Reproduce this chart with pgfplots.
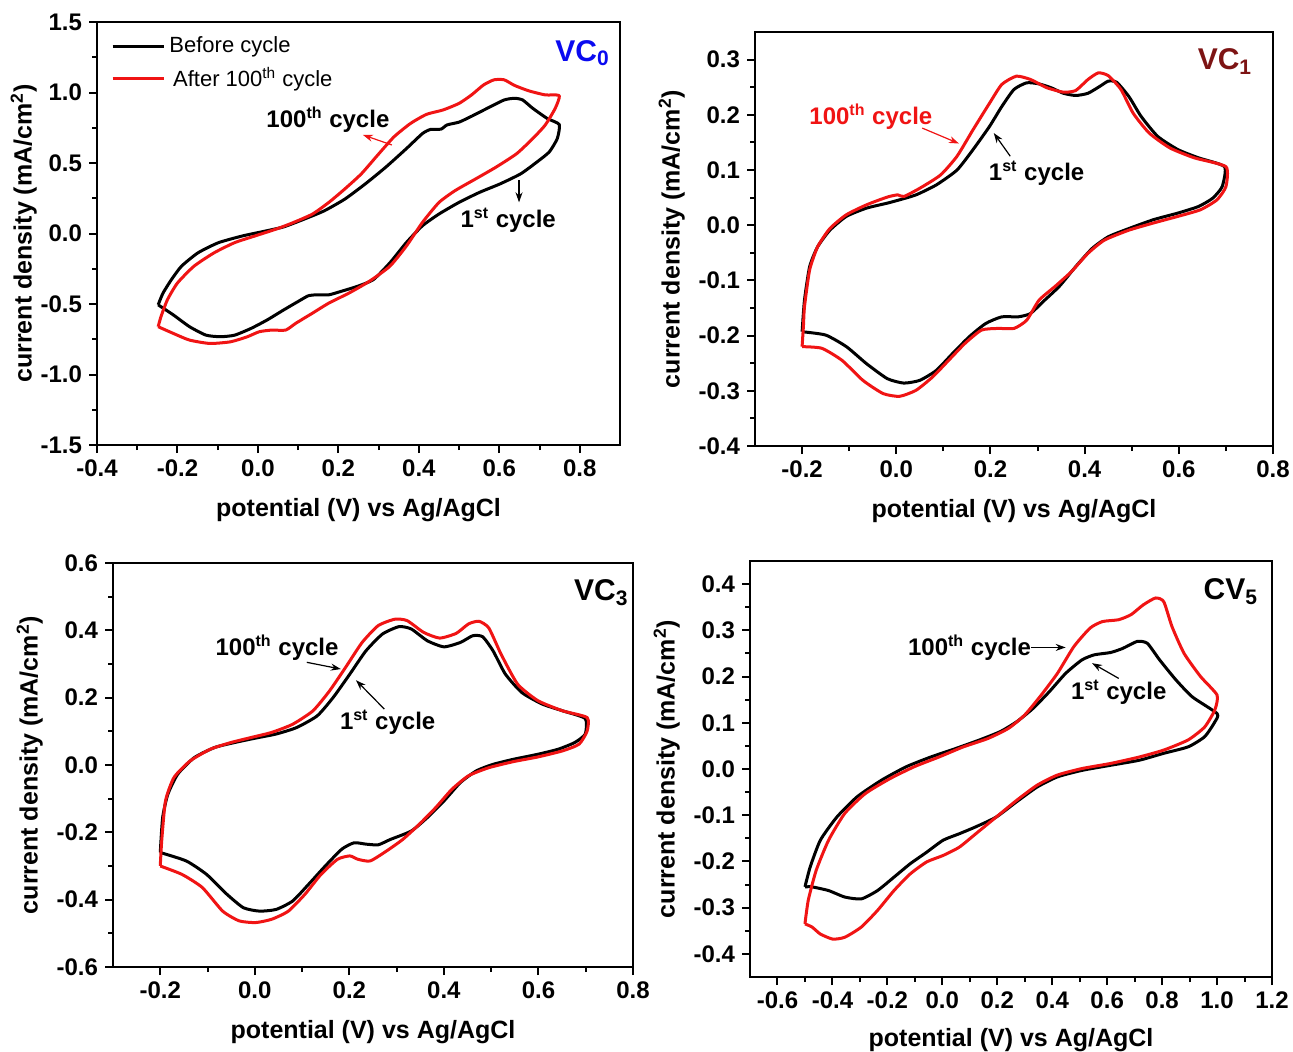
\documentclass[border=0pt]{standalone}
\usepackage{pgfplots}
\pgfplotsset{compat=1.18}
\usepackage{fontspec}
\setmainfont{Liberation Sans}
\usetikzlibrary{arrows.meta}
\definecolor{maroon}{RGB}{125,20,20}
\definecolor{cvred}{RGB}{240,20,20}
\definecolor{vcblue}{RGB}{10,10,240}
\pgfplotsset{
  cvstyle/.style={
    scale only axis,
    anchor=south west,
    axis line style={line width=1.2pt},
    every tick/.style={line width=1pt, black},
    tick align=outside,
    xtick pos=left, ytick pos=left,
    major tick length=4pt,
    minor tick length=2.5pt,
    minor x tick num=1, minor y tick num=1,
    scaled ticks=false,
    /pgf/number format/assume math mode=true,
    xticklabel style={font=\bfseries\fontsize{12}{14}\selectfont, /pgf/number format/.cd, fixed, fixed zerofill, precision=1},
    yticklabel style={font=\bfseries\fontsize{12}{14}\selectfont, /pgf/number format/.cd, fixed, fixed zerofill, precision=1},
    label style={font=\bfseries\fontsize{12.5}{15}\selectfont},
    xlabel style={yshift=-4pt},
    xlabel={potential (V) vs Ag/AgCl},
    ylabel={current density (mA/cm\textsuperscript{2})},
    every axis plot/.append style={line width=1.5pt, line join=round, mark=none, smooth, tension=0.35},
  }
}
\begin{document}
\begin{tikzpicture}
\useasboundingbox (0,0) rectangle (646.5pt,525.5pt);
% ---------------- Panel 1: VC0
\begin{axis}[cvstyle, at={(48.5pt,303pt)}, width=261.5pt, height=211.5pt,
  xmin=-0.4, xmax=0.9, ymin=-1.5, ymax=1.5,
  xtick={-0.4,-0.2,...,0.81}, ytick={-1.5,-1.0,...,1.51},
  ylabel style={yshift=-5pt},
  legend style={at={(0.015,0.985)}, anchor=north west, draw=none, fill=none,
    font=\fontsize{11}{13}\selectfont, row sep=2pt},
  legend cell align=left,
  legend image code/.code={\draw[#1, line width=1.5pt, sharp plot] (0,0) -- (0.9cm,0);}]
\addplot[black] coordinates {
(-0.248,-0.506) (-0.236,-0.423) (-0.215,-0.327) (-0.190,-0.232) (-0.149,-0.137) (-0.098,-0.065)
(-0.038,-0.017) (0.013,0.014) (0.064,0.047) (0.115,0.102) (0.165,0.161) (0.216,0.244)
(0.267,0.352) (0.318,0.471) (0.369,0.602) (0.409,0.709) (0.429,0.738) (0.455,0.740)
(0.470,0.770) (0.500,0.790) (0.530,0.830) (0.570,0.888) (0.612,0.947) (0.638,0.959)
(0.658,0.947) (0.683,0.888) (0.719,0.816) (0.749,0.773)
(0.744,0.673) (0.724,0.578) (0.693,0.506) (0.653,0.423) (0.602,0.352) (0.551,0.292)
(0.500,0.221) (0.450,0.138) (0.409,0.055) (0.369,-0.064) (0.328,-0.208) (0.287,-0.327)
(0.247,-0.375) (0.206,-0.411) (0.176,-0.435) (0.145,-0.435) (0.125,-0.442) (0.100,-0.482)
(0.064,-0.542) (0.023,-0.613) (-0.017,-0.673) (-0.058,-0.721) (-0.093,-0.732) (-0.129,-0.721)
(-0.170,-0.661) (-0.210,-0.578) (-0.248,-0.506)};
\addlegendentry{Before cycle}
\addplot[cvred] coordinates {
(-0.248,-0.661) (-0.241,-0.590) (-0.225,-0.470) (-0.200,-0.351) (-0.159,-0.232) (-0.109,-0.137)
(-0.058,-0.065) (-0.007,-0.017) (0.044,0.030) (0.084,0.073) (0.135,0.137) (0.176,0.220)
(0.216,0.316) (0.257,0.423) (0.297,0.554) (0.338,0.685) (0.379,0.780) (0.419,0.845)
(0.460,0.876) (0.500,0.923) (0.531,0.983) (0.561,1.054) (0.587,1.090) (0.612,1.090)
(0.638,1.050) (0.673,1.012) (0.714,0.983) (0.749,0.978)
(0.739,0.888) (0.714,0.769) (0.683,0.673) (0.643,0.566) (0.592,0.471) (0.541,0.387)
(0.490,0.304) (0.450,0.220) (0.409,0.079) (0.369,-0.089) (0.328,-0.232) (0.277,-0.339)
(0.226,-0.423) (0.176,-0.494) (0.135,-0.566) (0.094,-0.637) (0.069,-0.685) (0.034,-0.685)
(0.003,-0.697) (-0.027,-0.733) (-0.068,-0.768) (-0.119,-0.780) (-0.170,-0.756) (-0.210,-0.709)
(-0.248,-0.661)};
\addlegendentry{\,After 100\textsuperscript{th} cycle}
\node[font=\bfseries\fontsize{15}{17}\selectfont, text=vcblue] at (axis cs:0.807,1.28) {VC\textsubscript{0}};
\node[font=\bfseries\fontsize{12}{14}\selectfont] at (axis cs:0.174,0.805) {100\textsuperscript{th} cycle};
\draw[cvred, line width=0.6pt, -{Stealth[length=5pt,width=3.5pt]}] (axis cs:0.333,0.628) -- (axis cs:0.261,0.699);
\node[font=\bfseries\fontsize{12}{14}\selectfont] at (axis cs:0.622,0.096) {1\textsuperscript{st} cycle};
\draw[black, line width=0.6pt, -{Stealth[length=5pt,width=3.5pt]}] (axis cs:0.649,0.376) -- (axis cs:0.649,0.221);
\end{axis}
% ---------------- Panel 2: VC1
\begin{axis}[cvstyle, at={(377.5pt,302.5pt)}, width=259pt, height=207pt,
  xmin=-0.3, xmax=0.8, ymin=-0.4, ymax=0.35,
  xtick={-0.2,0,...,0.81}, ytick={-0.4,-0.3,...,0.31}]
\addplot[black] coordinates {
(-0.200,-0.193) (-0.195,-0.136) (-0.184,-0.075) (-0.167,-0.039) (-0.141,-0.009) (-0.106,0.016)
(-0.063,0.031) (-0.019,0.040) (0.007,0.046) (0.042,0.055) (0.085,0.073) (0.129,0.100)
(0.163,0.137) (0.198,0.179) (0.224,0.215) (0.250,0.246) (0.277,0.258) (0.303,0.256)
(0.329,0.249) (0.355,0.239) (0.381,0.235) (0.407,0.239) (0.433,0.252) (0.450,0.261)
(0.468,0.259) (0.494,0.233) (0.520,0.197) (0.555,0.161) (0.598,0.137) (0.642,0.122) (0.697,0.106)
(0.692,0.070) (0.672,0.049) (0.642,0.034) (0.598,0.022) (0.546,0.010) (0.494,-0.006)
(0.450,-0.021) (0.416,-0.042) (0.381,-0.075) (0.346,-0.111) (0.311,-0.139) (0.285,-0.160)
(0.259,-0.166) (0.224,-0.166) (0.190,-0.178) (0.155,-0.202) (0.120,-0.232) (0.085,-0.263)
(0.050,-0.281) (0.016,-0.286) (-0.019,-0.278) (-0.063,-0.251) (-0.106,-0.220) (-0.150,-0.199)
(-0.200,-0.193)};
\addplot[cvred] coordinates {
(-0.200,-0.220) (-0.197,-0.180) (-0.195,-0.148) (-0.184,-0.081) (-0.167,-0.039) (-0.141,-0.006) (-0.106,0.019)
(-0.063,0.037) (-0.019,0.051) (0.003,0.055) (0.016,0.052) (0.050,0.067) (0.094,0.091)
(0.129,0.125) (0.163,0.173) (0.198,0.221) (0.224,0.255) (0.255,0.270) (0.285,0.264)
(0.320,0.249) (0.355,0.241) (0.381,0.244) (0.407,0.264) (0.429,0.276) (0.450,0.271)
(0.477,0.246) (0.503,0.203) (0.537,0.167) (0.581,0.140) (0.633,0.122) (0.700,0.106)
(0.700,0.070) (0.681,0.046) (0.646,0.028) (0.598,0.016) (0.546,0.004) (0.494,-0.009)
(0.442,-0.027) (0.407,-0.051) (0.372,-0.084) (0.337,-0.111) (0.303,-0.136) (0.277,-0.172)
(0.250,-0.187) (0.216,-0.187) (0.181,-0.190) (0.146,-0.214) (0.111,-0.245) (0.077,-0.275)
(0.042,-0.299) (0.007,-0.310) (-0.028,-0.305) (-0.071,-0.281) (-0.115,-0.245) (-0.158,-0.223)
(-0.200,-0.220)};
\node[font=\bfseries\fontsize{15}{17}\selectfont, text=maroon] at (axis cs:0.698,0.297) {VC\textsubscript{1}};
\node[font=\bfseries\fontsize{12}{14}\selectfont, text=cvred] at (axis cs:-0.054,0.197) {100\textsuperscript{th} cycle};
\draw[cvred, line width=0.6pt, -{Stealth[length=5pt,width=3.5pt]}] (axis cs:0.055,0.176) -- (axis cs:0.133,0.148);
\node[font=\bfseries\fontsize{12}{14}\selectfont] at (axis cs:0.298,0.094) {1\textsuperscript{st} cycle};
\draw[black, line width=0.6pt, -{Stealth[length=5pt,width=3.5pt]}] (axis cs:0.242,0.125) -- (axis cs:0.207,0.167);
\end{axis}
% ---------------- Panel 3: VC3
\begin{axis}[cvstyle, at={(56.5pt,42pt)}, width=260pt, height=202pt,
  xmin=-0.3, xmax=0.8, ymin=-0.6, ymax=0.6,
  xtick={-0.2,0,...,0.81}, ytick={-0.6,-0.4,...,0.61}]
\addplot[black] coordinates {
(-0.200,-0.260) (-0.195,-0.156) (-0.184,-0.087) (-0.163,-0.027) (-0.128,0.022) (-0.085,0.052)
(-0.042,0.067) (0.002,0.080) (0.045,0.092) (0.088,0.111) (0.132,0.146) (0.166,0.201)
(0.201,0.270) (0.235,0.339) (0.270,0.389) (0.305,0.411) (0.331,0.404) (0.365,0.369)
(0.400,0.351) (0.435,0.364) (0.461,0.384) (0.482,0.381) (0.504,0.339) (0.530,0.270)
(0.565,0.215) (0.608,0.181) (0.651,0.161) (0.699,0.138)
(0.699,0.092) (0.677,0.067) (0.642,0.047) (0.599,0.032) (0.547,0.017) (0.504,0.002)
(0.469,-0.017) (0.435,-0.052) (0.400,-0.107) (0.365,-0.156) (0.331,-0.196) (0.287,-0.221)
(0.261,-0.237) (0.235,-0.235) (0.210,-0.231) (0.184,-0.250) (0.149,-0.300) (0.114,-0.354)
(0.080,-0.404) (0.045,-0.429) (0.010,-0.434) (-0.024,-0.424) (-0.059,-0.384) (-0.102,-0.325)
(-0.145,-0.285) (-0.200,-0.260)};
\addplot[cvred] coordinates {
(-0.200,-0.300) (-0.197,-0.226) (-0.189,-0.107) (-0.171,-0.037) (-0.137,0.012) (-0.094,0.047)
(-0.050,0.067) (-0.007,0.082) (0.036,0.097) (0.080,0.121) (0.123,0.161) (0.158,0.220)
(0.192,0.290) (0.227,0.364) (0.261,0.414) (0.296,0.433) (0.322,0.429) (0.357,0.394)
(0.391,0.377) (0.426,0.391) (0.452,0.419) (0.474,0.427) (0.495,0.407) (0.521,0.329)
(0.556,0.240) (0.599,0.191) (0.651,0.161) (0.703,0.141)
(0.703,0.101) (0.686,0.062) (0.651,0.042) (0.599,0.024) (0.547,0.010) (0.495,-0.008)
(0.452,-0.032) (0.417,-0.072) (0.383,-0.126) (0.348,-0.176) (0.313,-0.221) (0.279,-0.255)
(0.244,-0.285) (0.218,-0.280) (0.201,-0.270) (0.175,-0.280) (0.140,-0.325) (0.106,-0.384)
(0.071,-0.434) (0.036,-0.458) (0.002,-0.468) (-0.033,-0.463) (-0.068,-0.434) (-0.111,-0.364)
(-0.154,-0.325) (-0.200,-0.300)};
\node[font=\bfseries\fontsize{15}{17}\selectfont] at (axis cs:0.733,0.513) {VC\textsubscript{3}};
\node[font=\bfseries\fontsize{12}{14}\selectfont] at (axis cs:0.047,0.349) {100\textsuperscript{th} cycle};
\draw[black, line width=0.6pt, -{Stealth[length=5pt,width=3.5pt]}] (axis cs:0.110,0.305) -- (axis cs:0.182,0.285);
\node[font=\bfseries\fontsize{12}{14}\selectfont] at (axis cs:0.281,0.126) {1\textsuperscript{st} cycle};
\draw[black, line width=0.6pt, -{Stealth[length=5pt,width=3.5pt]}] (axis cs:0.274,0.166) -- (axis cs:0.214,0.252);
\end{axis}
% ---------------- Panel 4: CV5
\begin{axis}[cvstyle, at={(375pt,37pt)}, width=261pt, height=208pt,
  xmin=-0.7, xmax=1.2, ymin=-0.45, ymax=0.45,
  xlabel style={yshift=1pt},
  xtick={-0.6,-0.4,...,1.21}, ytick={-0.4,-0.3,...,0.41}]
\addplot[black] coordinates {
(-0.500,-0.255) (-0.481,-0.212) (-0.444,-0.154) (-0.384,-0.104) (-0.310,-0.060) (-0.221,-0.024)
(-0.131,0.005) (-0.042,0.026) (0.047,0.044) (0.136,0.063) (0.211,0.081) (0.270,0.102)
(0.330,0.131) (0.389,0.167) (0.449,0.207) (0.508,0.236) (0.553,0.247) (0.612,0.252)
(0.657,0.261) (0.709,0.276) (0.746,0.272) (0.791,0.236) (0.850,0.193) (0.910,0.156) (1.000,0.120)
(0.992,0.102) (0.955,0.070) (0.895,0.048) (0.806,0.034) (0.717,0.019) (0.612,0.008)
(0.508,-0.003) (0.419,-0.017) (0.345,-0.039) (0.270,-0.071) (0.196,-0.104) (0.122,-0.125)
(0.062,-0.140) (0.003,-0.154) (-0.057,-0.180) (-0.117,-0.205) (-0.176,-0.234) (-0.236,-0.263)
(-0.295,-0.281) (-0.355,-0.277) (-0.414,-0.263) (-0.474,-0.255) (-0.500,-0.255)};
\addplot[cvred] coordinates {
(-0.500,-0.335) (-0.488,-0.284) (-0.459,-0.219) (-0.414,-0.154) (-0.355,-0.096) (-0.280,-0.053)
(-0.191,-0.021) (-0.102,0.005) (-0.012,0.026) (0.077,0.048) (0.166,0.066) (0.241,0.088)
(0.300,0.117) (0.360,0.160) (0.419,0.207) (0.479,0.265) (0.538,0.305) (0.583,0.319)
(0.642,0.323) (0.687,0.334) (0.731,0.355) (0.776,0.370) (0.806,0.362) (0.836,0.308)
(0.880,0.250) (0.940,0.200) (1.000,0.160)
(0.992,0.128) (0.955,0.091) (0.895,0.063) (0.806,0.041) (0.717,0.026) (0.612,0.012)
(0.508,0.001) (0.419,-0.013) (0.345,-0.035) (0.270,-0.068) (0.196,-0.104) (0.122,-0.140)
(0.062,-0.169) (0.003,-0.187) (-0.057,-0.201) (-0.117,-0.227) (-0.176,-0.263) (-0.236,-0.306)
(-0.295,-0.342) (-0.355,-0.364) (-0.399,-0.368) (-0.444,-0.357) (-0.474,-0.342) (-0.500,-0.335)};
\node[font=\bfseries\fontsize{15}{17}\selectfont] at (axis cs:1.05,0.384) {CV\textsubscript{5}};
\node[font=\bfseries\fontsize{12}{14}\selectfont] at (axis cs:0.099,0.263) {100\textsuperscript{th} cycle};
\draw[black, line width=0.6pt, -{Stealth[length=5pt,width=3.5pt]}] (axis cs:0.322,0.263) -- (axis cs:0.449,0.263);
\node[font=\bfseries\fontsize{12}{14}\selectfont] at (axis cs:0.642,0.166) {1\textsuperscript{st} cycle};
\draw[black, line width=0.6pt, -{Stealth[length=5pt,width=3.5pt]}] (axis cs:0.642,0.196) -- (axis cs:0.545,0.229);
\end{axis}
\end{tikzpicture}
\end{document}
